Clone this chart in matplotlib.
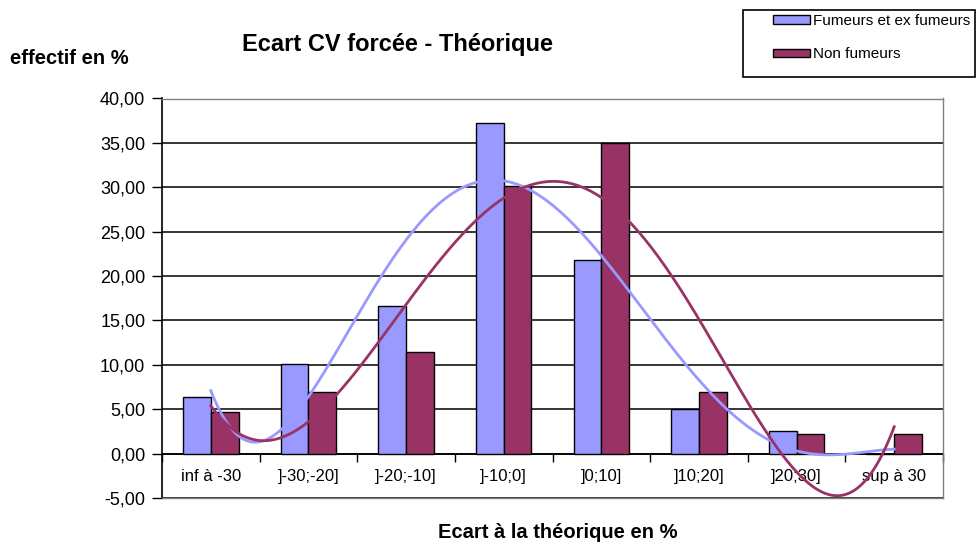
import numpy as np
import matplotlib
matplotlib.use("Agg")
import matplotlib.pyplot as plt
from matplotlib.ticker import FuncFormatter
from matplotlib.patches import Patch, Rectangle

plt.rcParams['font.family'] = ['Liberation Sans', 'DejaVu Sans']

categories = ["inf à -30", "]-30;-20]", "]-20;-10]", "]-10;0]", "]0;10]", "]10;20]", "]20;30]", "sup à 30"]
fumeurs = [6.4, 10.1, 16.6, 37.2, 21.8, 5.0, 2.6, 0.0]
non_fumeurs = [4.7, 6.9, 11.4, 30.2, 35.0, 6.9, 2.2, 2.2]
series_names = ["Fumeurs et ex fumeurs", "Non fumeurs"]
yticks = [-5, 0, 5, 10, 15, 20, 25, 30, 35, 40]
trend_orders = [5, 5]

c_blue = "#9999FF"
c_purple = "#993366"

W, H = 977, 544
fig = plt.figure(figsize=(W / 100, H / 100), dpi=100)
ax = fig.add_axes([162 / W, 1 - 498 / H, (943 - 162) / W, (498 - 98.5) / H])

x = np.arange(len(categories))
bw = 0.284
ax.bar(x - bw / 2, fumeurs, bw, color=c_blue, edgecolor="black", linewidth=1, zorder=3)
ax.bar(x + bw / 2, non_fumeurs, bw, color=c_purple, edgecolor="black", linewidth=1, zorder=3)

# polynomial trend lines, as in the spreadsheet
xf = np.linspace(0, len(categories) - 1, 300)
for vals, col, order in [(fumeurs, c_blue, trend_orders[0]), (non_fumeurs, c_purple, trend_orders[1])]:
    p = np.polyfit(x, vals, order)
    ax.plot(xf, np.polyval(p, xf), color=col, linewidth=2, zorder=4)

ax.set_xlim(-0.5, len(categories) - 0.5)
ax.set_ylim(yticks[0], yticks[-1])
ax.set_yticks(yticks)
ax.yaxis.set_major_formatter(FuncFormatter(lambda v, _: f"{v:.2f}".replace(".", ",")))
ax.tick_params(axis="y", direction="out", length=7, width=1, labelsize=13, pad=5, colors="black")
ax.grid(axis="y", color="black", linewidth=1.1, zorder=0)
ax.set_axisbelow(True)
ax.set_xticks([])

for s in ["top", "right", "bottom"]:
    ax.spines[s].set_color("#808080")
    ax.spines[s].set_linewidth(1)
ax.spines["left"].set_color("black")
ax.spines["left"].set_linewidth(1.2)

# category axis at y = 0
sec = ax.secondary_xaxis((0 - yticks[0]) / (yticks[-1] - yticks[0]))
sec.set_xticks(np.arange(len(categories) + 1) - 0.5)
sec.set_xticklabels([""] * (len(categories) + 1))
sec.set_xticks(x, labels=categories, minor=True)
sec.tick_params(which="major", direction="out", length=6, width=1)
sec.tick_params(which="minor", length=0, labelsize=12, pad=11)
sec.spines["bottom"].set_color("black")
sec.spines["bottom"].set_linewidth(1.2)

fig.text(397 / W, 1 - 45 / H, "Ecart CV forcée - Théorique", fontsize=17, fontweight="bold",
         ha="center", va="center")
fig.text(10 / W, 1 - 58 / H, "effectif en %", fontsize=14.5, fontweight="bold", ha="left", va="center")
fig.text(558 / W, 1 - 533 / H, "Ecart à la théorique en %", fontsize=14.5, fontweight="bold",
         ha="center", va="center")

# legend box
fig.patches.append(Rectangle((743 / W, 1 - 77 / H), (975 - 743) / W, (77 - 10) / H,
                             transform=fig.transFigure, fill=False, edgecolor="black",
                             linewidth=1.2))
handles = [Patch(facecolor=c_blue, edgecolor="black"), Patch(facecolor=c_purple, edgecolor="black")]
leg = fig.legend(handles, series_names, loc="upper left", bbox_to_anchor=(773 / W, 1 - 14 / H),
                 frameon=False, fontsize=11, handlelength=2.45, handleheight=0.45,
                 handletextpad=0.15, labelspacing=1.25, borderpad=0, borderaxespad=0)

fig.savefig("out.png", dpi=100)
